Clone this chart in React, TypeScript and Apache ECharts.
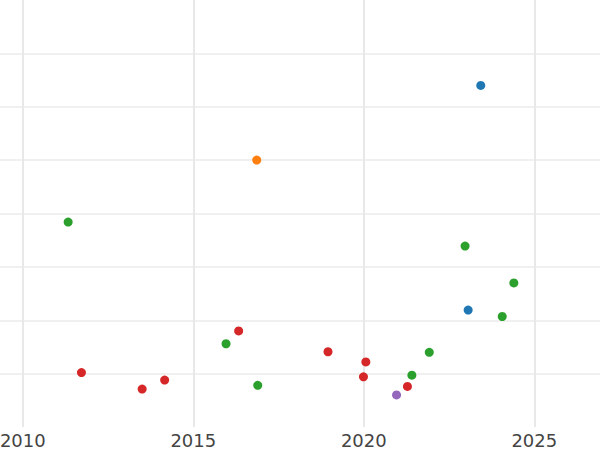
import React, { useEffect, useRef } from "react";
import * as echarts from "echarts";

const xTickLabels = [2005, 2010, 2015, 2020, 2025, 2030];
const visibleTickLabels = [2010, 2015, 2020, 2025];

const blueSeries: [number, number][] = [
  [2023.43, 6.4],
  [2023.06, 2.19],
];
const orangeSeries: [number, number][] = [[2016.86, 5.0]];
const greenSeries: [number, number][] = [
  [2011.33, 3.84],
  [2022.97, 3.39],
  [2024.4, 2.7],
  [2024.06, 2.07],
  [2015.96, 1.56],
  [2021.92, 1.4],
  [2021.41, 0.97],
  [2016.89, 0.78],
];
const redSeries: [number, number][] = [
  [2016.33, 1.8],
  [2018.95, 1.41],
  [2020.06, 1.22],
  [2011.72, 1.02],
  [2019.99, 0.94],
  [2014.16, 0.88],
  [2013.5, 0.71],
  [2021.28, 0.76],
];
const purpleSeries: [number, number][] = [[2020.96, 0.6]];

const colors = {
  blue: "#1f77b4",
  orange: "#ff7f0e",
  green: "#2ca02c",
  red: "#d62728",
  purple: "#9467bd",
};

export default function App() {
  const ref = useRef<HTMLDivElement>(null);
  useEffect(() => {
    document.body.style.margin = "0";
    const chart = echarts.init(ref.current!, null, { renderer: "svg" });
    const mk = (name: string, data: [number, number][], color: string) => ({
      name,
      type: "scatter",
      data,
      symbolSize: 9,
      itemStyle: { color, opacity: 1 },
      emphasis: { disabled: true },
    });
    chart.setOption({
      animation: false,
      backgroundColor: "#ffffff",
      grid: {
        left: -147.7,
        right: -104.8,
        top: 0,
        bottom: 23,
        containLabel: false,
        outerBoundsMode: "none",
      },
      xAxis: {
        type: "value",
        min: xTickLabels[0],
        max: xTickLabels[xTickLabels.length - 1],
        interval: 5,
        axisLine: { show: false },
        axisTick: { show: false },
        axisLabel: {
          fontFamily: "DejaVu Sans",
          fontSize: 18,
          color: "#444444",
          margin: 4,
          formatter: (v: number) =>
            visibleTickLabels.indexOf(v) >= 0 ? String(v) : "",
        },
        splitLine: { show: true, lineStyle: { color: "#e8e8e8", width: 2 } },
      },
      yAxis: {
        type: "value",
        min: 0,
        max: 8,
        interval: 1,
        axisLine: { show: false },
        axisTick: { show: false },
        axisLabel: { show: false },
        splitLine: {
          show: true,
          showMinLine: false,
          showMaxLine: false,
          lineStyle: { color: "#ebebeb", width: 1.5 },
        },
      },
      series: [
        mk("red", redSeries, colors.red),
        mk("green", greenSeries, colors.green),
        mk("purple", purpleSeries, colors.purple),
        mk("orange", orangeSeries, colors.orange),
        mk("blue", blueSeries, colors.blue),
      ],
    });
    return () => chart.dispose();
  }, []);
  return <div ref={ref} style={{ width: 600, height: 450 }} />;
}
